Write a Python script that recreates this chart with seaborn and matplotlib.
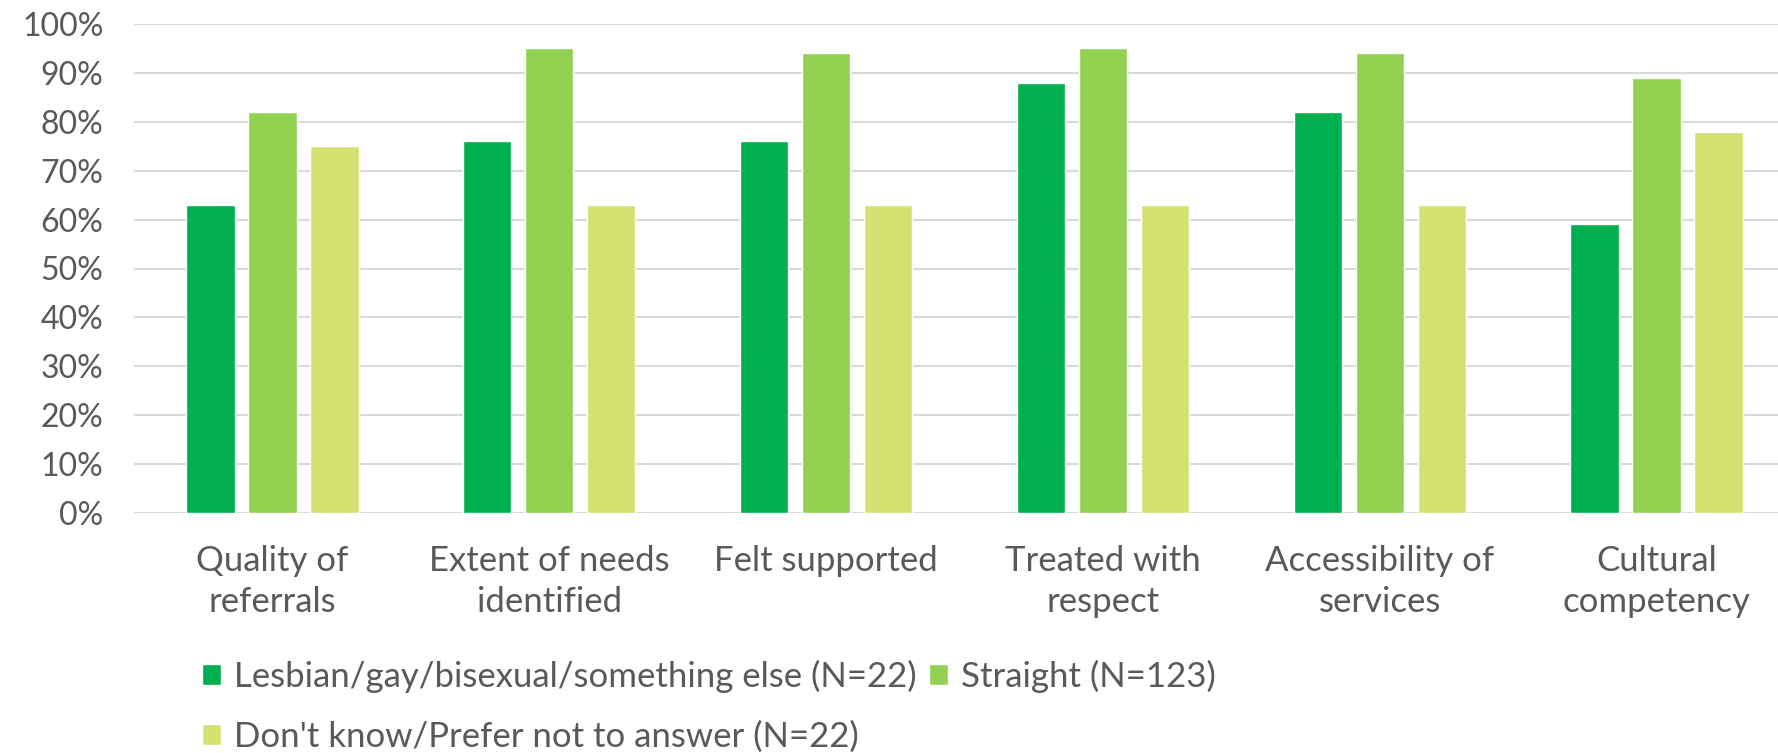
import numpy as np
import pandas as pd
import matplotlib
matplotlib.use("Agg")
import matplotlib.pyplot as plt
from matplotlib.ticker import PercentFormatter
import seaborn as sns

categories = ["Quality of\nreferrals", "Extent of needs\nidentified", "Felt supported",
              "Treated with\nrespect", "Accessibility of\nservices", "Cultural\ncompetency"]
groups = ["Lesbian/gay/bisexual/something else (N=22)", "Straight (N=123)",
          "Don't know/Prefer not to answer (N=22)"]
lgb_values = [63, 76, 76, 88, 82, 59]
straight_values = [82, 95, 94, 95, 94, 89]
unknown_values = [75, 63, 63, 63, 63, 78]
colors = ["#00B050", "#92D050", "#D4E06F"]

df = pd.DataFrame({
    "category": categories * 3,
    "group": [g for g in groups for _ in categories],
    "value": lgb_values + straight_values + unknown_values,
})

sns.set_theme(style="white")
plt.rcParams["font.family"] = ["Lato", "DejaVu Sans"]
text_color = "#595959"

fig = plt.figure(figsize=(17.78, 7.53), dpi=100)
ax = fig.add_axes([134 / 1778, 1 - 513 / 753, 1661 / 1778, 489 / 753])

sns.barplot(data=df, x="category", y="value", hue="group", order=categories,
            hue_order=groups, palette=colors, width=0.672, gap=0.22,
            saturation=1, ax=ax, legend=True)

ax.set_ylim(0, 100)
ax.set_xlim(-0.5, len(categories) - 0.5)
ax.set_yticks(np.arange(0, 101, 10))
ax.yaxis.set_major_formatter(PercentFormatter(decimals=0))
ax.grid(axis="y", color="#D9D9D9", linewidth=1.5)
ax.set_axisbelow(True)
for s in ax.spines.values():
    s.set_visible(False)
ax.set_xlabel("")
ax.set_ylabel("")
ax.tick_params(axis="y", labelsize=23, colors=text_color, pad=22, length=0)
ax.tick_params(axis="x", labelsize=25, colors=text_color, pad=23, length=0)
for lbl in ax.get_xticklabels():
    lbl.set_linespacing(1.34)

handles, labels = ax.get_legend_handles_labels()
order = [0, 2, 1]
ax.legend([handles[i] for i in order], [labels[i] for i in order],
          ncol=2, loc="upper left", bbox_to_anchor=(202 / 1778, 1 - 660 / 753),
          bbox_transform=fig.transFigure, frameon=False, fontsize=25,
          labelcolor=text_color, handlelength=0.55, handleheight=0.55,
          handletextpad=0.37, columnspacing=0.35, labelspacing=0.79,
          borderaxespad=0, borderpad=0)

fig.savefig("out.png", dpi=100)
